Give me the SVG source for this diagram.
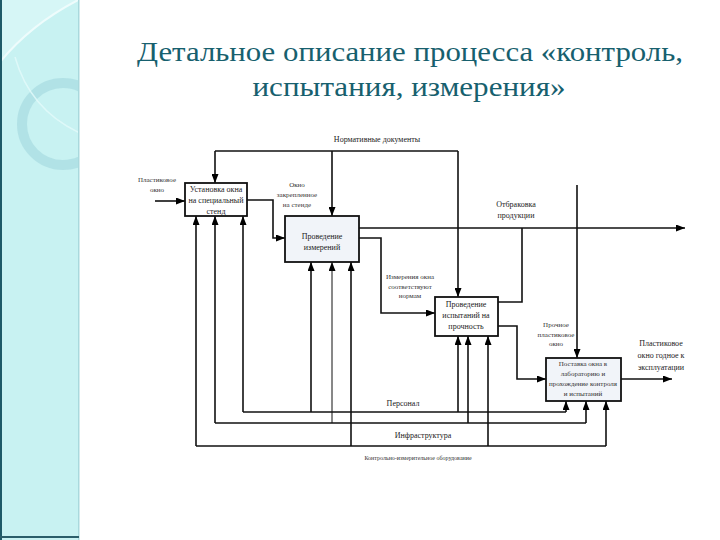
<svg xmlns="http://www.w3.org/2000/svg" width="720" height="540" viewBox="0 0 720 540">
<defs>
<marker id="ah" markerUnits="userSpaceOnUse" markerWidth="9" markerHeight="7" refX="9" refY="3.5" orient="auto"><path d="M0,0 L9,3.5 L0,7 z" fill="#000"/></marker>
<clipPath id="sb"><rect x="0" y="0" width="78" height="540"/></clipPath>
<style>
.box{fill:#fff;stroke:#111;stroke-width:1.8}
.boxf{fill:#f1f4f9;stroke:#111;stroke-width:1.8}
.c{fill:none;stroke:#111;stroke-width:1.6}
.ca{fill:none;stroke:#111;stroke-width:1.6;marker-end:url(#ah)}
.ct{fill:none;stroke:#111;stroke-width:1;marker-end:url(#ah)}
.t{font-family:"Liberation Serif",serif;font-size:8px;fill:#222;text-anchor:middle}
.s{font-family:"Liberation Serif",serif;font-size:7px;fill:#333;text-anchor:middle}
.title{font-family:"Liberation Serif",serif;font-size:27px;fill:#17606e;text-anchor:middle}
</style>
</defs>
<rect width="720" height="540" fill="#fff"/>
<g id="sidebar">
<rect x="0" y="0" width="79" height="540" fill="#c8f2f2"/>
<g clip-path="url(#sb)">
<circle cx="63" cy="124" r="41" fill="none" stroke="#aadce2" stroke-width="10" opacity="0.75"/>
<path d="M0,62 Q30,25 78,0 L0,0 z" fill="#dcf8f8" opacity="0.7"/>
<path d="M0,62 Q30,25 78,0" fill="none" stroke="#eefcfc" stroke-width="2"/>
<path d="M15,57 Q30,110 80,133" fill="none" stroke="#e4fafa" stroke-width="1.5" opacity="0.8"/>
</g>
<rect x="0" y="0" width="2" height="540" fill="#1e5a68"/>
<rect x="78" y="0" width="1.5" height="540" fill="#a9d9dd"/>
<rect x="0" y="536" width="79" height="2" fill="#2a5e6a"/>
</g>
<g id="title">
<text class="title" x="410" y="61" textLength="546" lengthAdjust="spacingAndGlyphs">Детальное описание процесса «контроль,</text>
<text class="title" x="409" y="96" textLength="313" lengthAdjust="spacingAndGlyphs">испытания, измерения»</text>
</g>
<g id="connectors">
<path class="ca" d="M155,201 H185"/>
<path class="c" d="M215,151 H458"/>
<path class="ca" d="M215,151 V183"/>
<path class="ca" d="M332,151 V216"/>
<path class="ca" d="M458,151 V297"/>
<path class="ca" d="M247,200 H273 V238 H285"/>
<path class="ca" d="M359,228 H685"/>
<path class="ca" d="M359,238 H381 V313 H435"/>
<path class="c" d="M498,302 H522 V228"/>
<path class="ca" d="M498,326 H517 V379 H546"/>
<path class="ca" d="M577,185 V358"/>
<path class="ca" d="M621,379 H672"/>
<path class="c" d="M243,412 H566"/>
<path class="ca" d="M243,412 V216"/>
<path class="ca" d="M311,412 V262"/>
<path class="ca" d="M458,412 V336"/>
<path class="ca" d="M566,412 V401"/>
<path class="c" d="M215,423 H586"/>
<path class="ca" d="M215,423 V216"/>
<path class="ct" d="M332,423 V262"/>
<path class="ca" d="M468,423 V336"/>
<path class="ca" d="M586,423 V401"/>
<path class="c" d="M196,446 H606"/>
<path class="ca" d="M196,446 V216"/>
<path class="ca" d="M351,446 V262"/>
<path class="ca" d="M488,446 V336"/>
<path class="ca" d="M606,446 V401"/>
</g>
<g id="labels">
<text class="s" x="157" y="182">Пластиковое</text>
<text class="s" x="157" y="192">окно</text>
<text class="t" x="377" y="142">Нормативные документы</text>
<text class="s" x="297" y="187">Окно</text>
<text class="s" x="297" y="197">закрепленное</text>
<text class="s" x="297" y="207">на стенде</text>
<text class="t" x="516" y="207">Отбраковка</text>
<text class="t" x="516" y="218">продукции</text>
<text class="s" x="410" y="279">Измерения окна</text>
<text class="s" x="410" y="289">соответствуют</text>
<text class="s" x="410" y="298">нормам</text>
<text class="s" x="556" y="327">Прочное</text>
<text class="s" x="556" y="337">пластиковое</text>
<text class="s" x="556" y="346">окно</text>
<text class="t" x="661" y="346">Пластиковое</text>
<text class="t" x="661" y="358">окно годное к</text>
<text class="t" x="661" y="370">эксплуатации</text>
<text class="t" x="403" y="406">Персонал</text>
<text class="t" x="423" y="438">Инфраструктура</text>
<text class="s" x="418" y="460" style="font-size:6px">Контрольно-измерительное оборудование</text>
</g>
<g id="n1">
<rect class="box" x="185" y="183" width="62" height="33"/>
<text class="t" x="216" y="192">Установка окна</text>
<text class="t" x="216" y="203">на специальный</text>
<text class="t" x="216" y="214">стенд</text>
</g>
<g id="n2">
<rect class="boxf" x="285" y="216" width="74" height="46"/>
<text class="t" x="322" y="239">Проведение</text>
<text class="t" x="322" y="250">измерений</text>
</g>
<g id="n3">
<rect class="box" x="435" y="297" width="63" height="39"/>
<text class="t" x="466" y="307">Проведение</text>
<text class="t" x="466" y="318">испытаний на</text>
<text class="t" x="466" y="329">прочность</text>
</g>
<g id="n4">
<rect class="boxf" x="546" y="358" width="75" height="43"/>
<text class="s" x="583" y="366">Поставка окна в</text>
<text class="s" x="583" y="376">лабораторию и</text>
<text class="s" x="583" y="386">прохождение контроля</text>
<text class="s" x="583" y="396">и испытаний</text>
</g>
</svg>
